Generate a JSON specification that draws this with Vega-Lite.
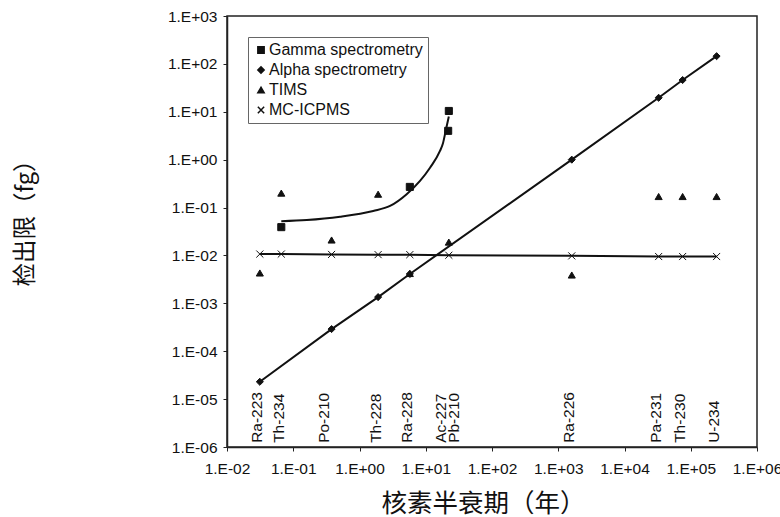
{
  "$schema": "https://vega.github.io/schema/vega-lite/v6.json",
  "width": 530,
  "height": 431,
  "autosize": {"type": "none"},
  "padding": {"left": 227, "top": 16, "right": 23, "bottom": 70},
  "background": "white",
  "config": {
    "view": {"stroke": "#222", "strokeWidth": 1.5},
    "axis": {
      "grid": false,
      "domainColor": "#222",
      "domainWidth": 1.5,
      "tickColor": "#222",
      "tickSize": 4,
      "labelFont": "Liberation Sans",
      "labelFontSize": 15.5,
      "labelColor": "#111",
      "titleFont": "Noto Sans CJK SC",
      "titleFontWeight": "normal",
      "titleColor": "#111"
    }
  },
  "datasets": {
    "pts": [
      {"iso": "Th-234", "t": 0.066, "method": "Gamma spectrometry", "fg": 0.039},
      {"iso": "Ra-228", "t": 5.75, "method": "Gamma spectrometry", "fg": 0.27},
      {"iso": "Ac-227", "t": 21.8, "method": "Gamma spectrometry", "fg": 4.0},
      {"iso": "Pb-210", "t": 22.3, "method": "Gamma spectrometry", "fg": 10.4},
      {"iso": "Ra-223", "t": 0.0313, "method": "Alpha spectrometry", "fg": 0.000023},
      {"iso": "Po-210", "t": 0.379, "method": "Alpha spectrometry", "fg": 0.00029},
      {"iso": "Th-228", "t": 1.91, "method": "Alpha spectrometry", "fg": 0.00135},
      {"iso": "Ra-228", "t": 5.75, "method": "Alpha spectrometry", "fg": 0.0041},
      {"iso": "Ra-226", "t": 1600, "method": "Alpha spectrometry", "fg": 1.0},
      {"iso": "Pa-231", "t": 32760, "method": "Alpha spectrometry", "fg": 19.6},
      {"iso": "Th-230", "t": 75380, "method": "Alpha spectrometry", "fg": 46},
      {"iso": "U-234", "t": 245500, "method": "Alpha spectrometry", "fg": 145},
      {"iso": "Ra-223", "t": 0.0313, "method": "TIMS", "fg": 0.0043},
      {"iso": "Th-234", "t": 0.066, "method": "TIMS", "fg": 0.20},
      {"iso": "Po-210", "t": 0.379, "method": "TIMS", "fg": 0.021},
      {"iso": "Th-228", "t": 1.91, "method": "TIMS", "fg": 0.19},
      {"iso": "Ra-228", "t": 5.75, "method": "TIMS", "fg": 0.0042},
      {"iso": "Pb-210", "t": 22.3, "method": "TIMS", "fg": 0.019},
      {"iso": "Ra-226", "t": 1600, "method": "TIMS", "fg": 0.0039},
      {"iso": "Pa-231", "t": 32760, "method": "TIMS", "fg": 0.17},
      {"iso": "Th-230", "t": 75380, "method": "TIMS", "fg": 0.17},
      {"iso": "U-234", "t": 245500, "method": "TIMS", "fg": 0.17},
      {"iso": "Ra-223", "t": 0.0313, "method": "MC-ICPMS", "fg": 0.0107},
      {"iso": "Th-234", "t": 0.066, "method": "MC-ICPMS", "fg": 0.0107},
      {"iso": "Po-210", "t": 0.379, "method": "MC-ICPMS", "fg": 0.0105},
      {"iso": "Th-228", "t": 1.91, "method": "MC-ICPMS", "fg": 0.0104},
      {"iso": "Ra-228", "t": 5.75, "method": "MC-ICPMS", "fg": 0.0104},
      {"iso": "Pb-210", "t": 22.3, "method": "MC-ICPMS", "fg": 0.0101},
      {"iso": "Ra-226", "t": 1600, "method": "MC-ICPMS", "fg": 0.0098},
      {"iso": "Pa-231", "t": 32760, "method": "MC-ICPMS", "fg": 0.0095},
      {"iso": "Th-230", "t": 75380, "method": "MC-ICPMS", "fg": 0.0095},
      {"iso": "U-234", "t": 245500, "method": "MC-ICPMS", "fg": 0.0095}
    ],
    "curve": [
      {"t": 0.066, "fg": 0.052},
      {"t": 0.16, "fg": 0.055},
      {"t": 0.51, "fg": 0.0645},
      {"t": 1.61, "fg": 0.085},
      {"t": 2.89, "fg": 0.108},
      {"t": 5.15, "fg": 0.19},
      {"t": 8.19, "fg": 0.36},
      {"t": 11.6, "fg": 0.68},
      {"t": 16.4, "fg": 1.52},
      {"t": 18.2, "fg": 2.2},
      {"t": 20.0, "fg": 4.0},
      {"t": 22.3, "fg": 8.0}
    ],
    "isos": [
      {"iso": "Ra-223", "t": 0.0313},
      {"iso": "Th-234", "t": 0.066},
      {"iso": "Po-210", "t": 0.379},
      {"iso": "Th-228", "t": 1.91},
      {"iso": "Ra-228", "t": 5.75},
      {"iso": "Ac-227", "t": 21.8},
      {"iso": "Pb-210", "t": 22.3},
      {"iso": "Ra-226", "t": 1600},
      {"iso": "Pa-231", "t": 32760},
      {"iso": "Th-230", "t": 75380},
      {"iso": "U-234", "t": 245500}
    ]
  },
  "layer": [
    {
      "data": {"name": "pts"},
      "mark": {"type": "point", "filled": true, "fill": "#111", "stroke": "#111", "strokeWidth": 1, "size": 50, "opacity": 1},
      "encoding": {
        "x": {
          "field": "t", "type": "quantitative", "title": "核素半衰期（年）",
          "scale": {"type": "log", "domain": [0.01, 1000000], "nice": false},
          "axis": {
            "titleFontSize": 25.5,
            "titleX": 256, "titleY": 56, "titleAlign": "center", "titleBaseline": "middle",
            "values": [0.01, 0.1, 1, 10, 100, 1000, 10000, 100000, 1000000],
            "labelExpr": "'1.E' + (datum.value >= 1 ? '+' : '-') + format(abs(round(log(datum.value)/LN10)), '02d')",
            "labelPadding": 10,
            "labelFlush": false,
            "labelOverlap": false
          }
        },
        "y": {
          "field": "fg", "type": "quantitative", "title": "检出限（fg）",
          "scale": {"type": "log", "domain": [0.000001, 1000], "nice": false},
          "axis": {
            "titleFontSize": 23.5,
            "titleX": -202, "titleY": 201, "titleAngle": 270, "titleAlign": "center", "titleBaseline": "middle",
            "values": [0.000001, 0.00001, 0.0001, 0.001, 0.01, 0.1, 1, 10, 100, 1000],
            "labelExpr": "'1.E' + (datum.value >= 1 ? '+' : '-') + format(abs(round(log(datum.value)/LN10)), '02d')",
            "labelPadding": 6,
            "labelFlush": false,
            "labelOverlap": false
          }
        },
        "shape": {
          "field": "method", "type": "nominal",
          "scale": {
            "domain": ["Gamma spectrometry", "Alpha spectrometry", "TIMS", "MC-ICPMS"],
            "range": ["square", "diamond", "triangle-up", "M-1,-1L1,1M1,-1L-1,1"]
          },
          "legend": {
            "orient": "none", "legendX": 21, "legendY": 21,
            "title": null,
            "labelFont": "Liberation Sans", "labelFontSize": 16, "labelColor": "#111",
            "labelOffset": 0,
            "symbolSize": 40,
            "strokeColor": "#666",
            "padding": 5, "rowPadding": 4,
            "encode": {
              "legend": {"update": {"strokeDash": {"value": [2, 2]}}},
              "symbols": {"update": {"fill": {"value": "#111"}, "stroke": {"value": "#111"}, "strokeWidth": {"value": 1}, "opacity": {"value": 1}}}
            }
          }
        }
      }
    },
    {
      "data": {"name": "curve"},
      "mark": {"type": "line", "color": "#111", "strokeWidth": 2, "interpolate": "monotone"},
      "encoding": {
        "x": {"field": "t", "type": "quantitative", "title": "核素半衰期（年）"},
        "y": {"field": "fg", "type": "quantitative", "title": "检出限（fg）"},
        "order": {"field": "t", "type": "quantitative"}
      }
    },
    {
      "data": {"name": "pts"},
      "transform": [{"filter": "datum.method === 'Alpha spectrometry'"}],
      "mark": {"type": "line", "color": "#111", "strokeWidth": 2},
      "encoding": {
        "x": {"field": "t", "type": "quantitative", "title": "核素半衰期（年）"},
        "y": {"field": "fg", "type": "quantitative", "title": "检出限（fg）"},
        "order": {"field": "t", "type": "quantitative"}
      }
    },
    {
      "data": {"name": "pts"},
      "transform": [{"filter": "datum.method === 'MC-ICPMS'"}],
      "mark": {"type": "line", "color": "#111", "strokeWidth": 2},
      "encoding": {
        "x": {"field": "t", "type": "quantitative", "title": "核素半衰期（年）"},
        "y": {"field": "fg", "type": "quantitative", "title": "检出限（fg）"},
        "order": {"field": "t", "type": "quantitative"}
      }
    },
    {
      "data": {"name": "isos"},
      "transform": [{"filter": "datum.iso !== 'Ac-227' && datum.iso !== 'Pb-210' && datum.iso !== 'Po-210'"}],
      "mark": {"type": "text", "angle": 270, "align": "left", "baseline": "middle", "font": "Liberation Sans", "fontSize": 15.5, "color": "#111", "dy": -2.5},
      "encoding": {
        "x": {"field": "t", "type": "quantitative", "title": "核素半衰期（年）"},
        "y": {"datum": 0.00000122, "type": "quantitative", "title": "检出限（fg）"},
        "text": {"field": "iso", "type": "nominal"}
      }
    },
    {
      "data": {"name": "isos"},
      "transform": [{"filter": "datum.iso === 'Po-210'"}],
      "mark": {"type": "text", "angle": 270, "align": "left", "baseline": "middle", "font": "Liberation Sans", "fontSize": 15.5, "color": "#111", "dy": -8},
      "encoding": {
        "x": {"field": "t", "type": "quantitative", "title": "核素半衰期（年）"},
        "y": {"datum": 0.00000122, "type": "quantitative", "title": "检出限（fg）"},
        "text": {"field": "iso", "type": "nominal"}
      }
    },
    {
      "data": {"name": "isos"},
      "transform": [{"filter": "datum.iso === 'Ac-227'"}],
      "mark": {"type": "text", "angle": 270, "align": "left", "baseline": "middle", "font": "Liberation Sans", "fontSize": 15.5, "color": "#111", "dy": -7},
      "encoding": {
        "x": {"field": "t", "type": "quantitative", "title": "核素半衰期（年）"},
        "y": {"datum": 0.00000122, "type": "quantitative", "title": "检出限（fg）"},
        "text": {"field": "iso", "type": "nominal"}
      }
    },
    {
      "data": {"name": "isos"},
      "transform": [{"filter": "datum.iso === 'Pb-210'"}],
      "mark": {"type": "text", "angle": 270, "align": "left", "baseline": "middle", "font": "Liberation Sans", "fontSize": 15.5, "color": "#111", "dy": 5.5},
      "encoding": {
        "x": {"field": "t", "type": "quantitative", "title": "核素半衰期（年）"},
        "y": {"datum": 0.00000122, "type": "quantitative", "title": "检出限（fg）"},
        "text": {"field": "iso", "type": "nominal"}
      }
    }
  ]
}
